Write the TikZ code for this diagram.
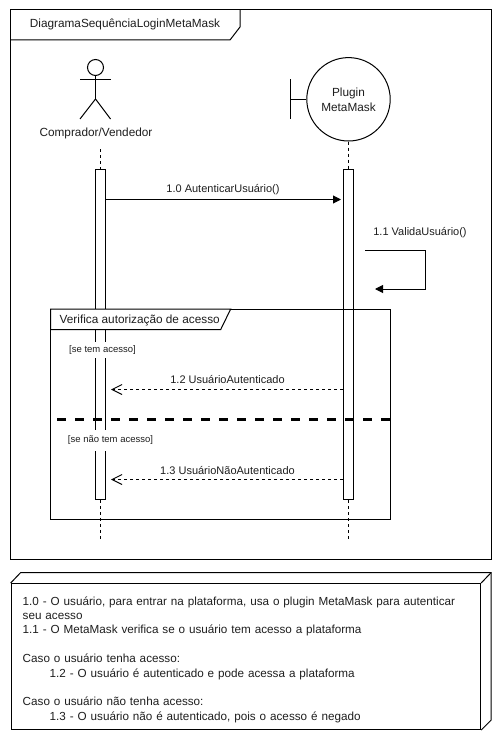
\documentclass[tikz,border=0pt]{standalone}
\usepackage{fontspec}
\setmainfont{Liberation Sans}
\usetikzlibrary{arrows.meta, positioning}
\definecolor{cLine}{RGB}{ 0, 0, 0}
\definecolor{cText}{RGB}{30,30,30}
\tikzset{
  lbl/.style={font=\fontsize{11}{13}\selectfont, text=cText, inner sep=1pt, align=center},
  big/.style={font=\fontsize{11.8}{13}\selectfont, text=cText, inner sep=1pt, align=center},
  guard/.style={font=\fontsize{9.5}{11}\selectfont, text=cText, fill=white, inner sep=2pt, minimum height=#1},
  activ/.style={
    rectangle, draw=cLine, fill=white, line width=1pt,
    minimum width=10pt, minimum height=#1, inner sep=0pt
  },
  life/.style={draw=cLine, line width=1pt, dashed, dash pattern=on 3pt off 3pt},
  uml/.style={draw=cLine, line width=1pt},
  fa/.style={-{Triangle[length=8pt,width=8pt]}, draw=cLine, line width=1pt},
  da/.style={-{Straight Barb[length=10pt,width=10pt]}, draw=cLine, line width=1pt,
             dash pattern=on 3pt off 3pt},
}
\begin{document}
\begin{tikzpicture}[x=1pt, y=-1pt]
\useasboundingbox (0,0) rectangle (502,741);

%% ── Outer frame ──────────────────────────────────────────────────────────────
\draw[uml] (10.5,10) rectangle (491,559);
\draw[uml] (10.5,40) -- (230,40) -- (240,27) -- (240,10);
\node[big] (title) at (125,24) {DiagramaSequênciaLoginMetaMask};

%% ── Actor ────────────────────────────────────────────────────────────────────
\node[circle, uml, minimum size=16pt, inner sep=0pt] (head) at (95.5,67.5) {};
\coordinate (hip) at (95.5,99);
\coordinate (footL) at (80,119);
\coordinate (footR) at (110.5,119);
\coordinate (armL) at (80,79.5);
\coordinate (armR) at (110.5,79.5);
\draw[uml] (head.south) -- (hip);
\draw[uml] (armL) -- (armR);
\draw[uml] (footL) -- (hip) -- (footR);
\node[big] (buyer) at (96,133.5) {Comprador/Vendedor};

%% ── Boundary ─────────────────────────────────────────────────────────────────
\node[circle, uml, minimum size=83.4pt, inner sep=0pt, big] (plugin) at (348.5,99.3) {Plugin\\[2pt]MetaMask};
\coordinate (barT) at (290.5,79.5);
\coordinate (barB) at (290.5,119);
\coordinate (barM) at (290.5,99.3);
\draw[uml] (barT) -- (barB);
\draw[uml] (barM) -- (plugin.west);

%% ── Lifelines ────────────────────────────────────────────────────────────────
\node[activ=329.5pt] (actA) at (100.5,334.5) {};
\node[activ=330pt]   (actB) at (348.5,334.5) {};
\coordinate (lifeAtop) at (100.5,149);
\coordinate (lifeAend) at (100.5,540);
\coordinate (lifeBend) at (348.5,540);
\draw[life] (lifeAtop) -- (actA.north);
\draw[life] (actA.south) -- (lifeAend);
\draw[life] (plugin.south) -- (actB.north);
\draw[life] (actB.south) -- (lifeBend);

%% ── Messages ─────────────────────────────────────────────────────────────────
\coordinate (t10) at (341,199.5);
\draw[fa] (actA.east |- t10) -- (t10);
\node[lbl] (m10) at (223,189.5) {1.0 AutenticarUsuário()};

\coordinate (s11) at (365,250);
\coordinate (c11a) at (425,250);
\coordinate (c11b) at (425,289);
\coordinate (t11) at (375,289);
\draw[fa] (s11) -- (c11a) -- (c11b) -- (t11);
\node[lbl] (m11) at (420,232.5) {1.1 ValidaUsuário()};

%% ── Alternative ──────────────────────────────────────────────────────────────
\draw[uml] (50.5,309) rectangle (390,519);
\draw[uml, fill=white] (50.5,309) -- (230.7,309) -- (220.7,329.5) -- (50.5,329.5) -- cycle;
\node[big, anchor=west] (alt) at (58.5,320) {Verifica autorização de acesso};

\node[guard=16pt] (g1) at (102.5,350) {[se tem acesso]};
\node[guard=21pt] (g2) at (110.5,440) {[se não tem acesso]};

\coordinate (divL) at (57,419);
\coordinate (divR) at (390,419);
\draw[draw=black, line width=3pt, dash pattern=on 9pt off 9pt] (divL) -- (divR);

\coordinate (t12) at (111,389.5);
\draw[da] (actB.west |- t12) -- (t12);
\node[lbl] (m12) at (227.5,380) {1.2 UsuárioAutenticado};

\coordinate (t13) at (111,479.5);
\draw[da] (actB.west |- t13) -- (t13);
\node[lbl] (m13) at (227.5,470) {1.3 UsuárioNãoAutenticado};

%% ── Note ─────────────────────────────────────────────────────────────────────
\node[uml, rectangle, anchor=north west, minimum width=469.5pt, minimum height=146pt] (note) at (10.7,583) {};
\node[text width=446.5pt, inner sep=0pt, align=left, text=cText,
      font=\fontsize{11.7}{14.4}\selectfont, yshift=-3pt] (notetext) at (note.center) {%
  1.0 - O usuário, para entrar na plataforma, usa o plugin MetaMask para autenticar\\
  seu acesso\\
  1.1 - O MetaMask verifica se o usuário tem acesso a plataforma\\[14.4pt]
  Caso o usuário tenha acesso:\\
  \hspace*{27pt}1.2 - O usuário é autenticado e pode acessa a plataforma\\[14.4pt]
  Caso o usuário não tenha acesso:\\
  \hspace*{27pt}1.3 - O usuário não é autenticado, pois o acesso é negado};
\draw[uml] (note.north west) -- ++(10,-10.5) -| ([xshift=10pt,yshift=10pt]note.south east) -- (note.south east);
\draw[uml] (note.north east) -- ++(10,-10.5);

\end{tikzpicture}
\end{document}
